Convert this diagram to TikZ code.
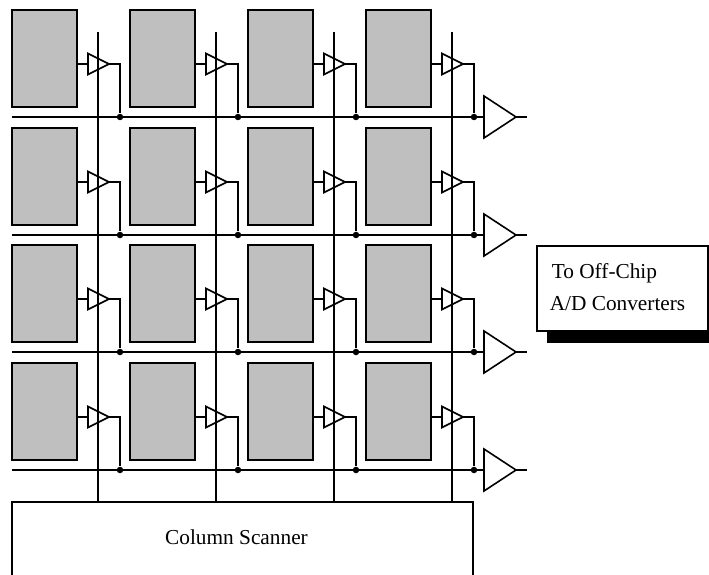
\documentclass[tikz,border=0pt]{standalone}
\usepackage{fontspec}
\setmainfont{Liberation Serif}
\usetikzlibrary{positioning, shapes.geometric, calc}

\begin{document}
\begin{tikzpicture}[x=1pt, y=-1pt, line width=1.6pt,
  pixel/.style={rectangle, draw, fill=black!25, inner sep=0pt,
                minimum width=65pt, minimum height=97pt},
  amp/.style={isosceles triangle, isosceles triangle stretches, draw, inner sep=0pt, outer sep=0pt,
              anchor=lower side, minimum width=21pt, minimum height=21pt},
  bigamp/.style={isosceles triangle, isosceles triangle stretches, draw, inner sep=0pt, outer sep=0pt,
                 anchor=lower side, minimum width=42pt, minimum height=32pt},
  junction/.style={circle, fill=black, inner sep=0pt, minimum size=6.5pt},
  label/.style={font=\fontsize{21.3}{25}\selectfont, inner sep=0pt}
]
  \clip (0,0) rectangle (709,575);

  % Column scanner runs off the bottom of the page
  \node[rectangle, draw, inner sep=0pt, minimum width=461pt, minimum height=80pt] (scanner) at (242.5,542) {};
  \node[label] (scanlabel) at (236.5,537) {Column Scanner};

  % Pixel array
  \foreach \r/\dy in {0/0,1/118,2/235,3/353} {
    \foreach \c in {0,...,3} {
      \pgfmathsetmacro{\px}{44.5+118*\c}
      \pgfmathsetmacro{\py}{58.5+\dy}
      \node[pixel] (cell\r\c) at (\px,\py) {};
      \node[amp] (amp\r\c) at ($(cell\r\c.center)+(43.5,5.5)$) {};
      \node[junction] (dot\r\c) at ($(cell\r\c.center)+(75.5,58.5)$) {};
      \draw (cell\r\c.east |- amp\r\c.lower side) -- (amp\r\c.lower side);
      \draw (amp\r\c.apex) -| (dot\r\c);
    }
  }

  % Row outputs
  \foreach \r/\dy in {0/0,1/118,2/235,3/353} {
    \pgfmathsetmacro{\py}{117+\dy}
    \coordinate (busstart\r) at (12,\py);
    \node[bigamp] (out\r) at (484,\py) {};
    \coordinate (outend\r) at (527,\py);
    \draw (busstart\r) -- (out\r.lower side);
    \draw (out\r.apex) -- (outend\r);
  }

  % Column select lines
  \foreach \c in {0,...,3} {
    \pgfmathsetmacro{\px}{98+118*\c}
    \coordinate (coltop\c) at (\px,32);
    \draw (coltop\c) -- (coltop\c |- scanner.north);
  }

  % Note box with shadow
  \fill (547,325) rectangle (709,343);
  \node[rectangle, draw, fill=white, inner sep=0pt, minimum width=171pt, minimum height=85pt] (note) at (622.5,288.5) {};
  \node[label, anchor=base west] (note1) at (551,278) {To Off-Chip};
  \node[label, anchor=base west] (note2) at (549,310) {A/D Converters};
\end{tikzpicture}
\end{document}
